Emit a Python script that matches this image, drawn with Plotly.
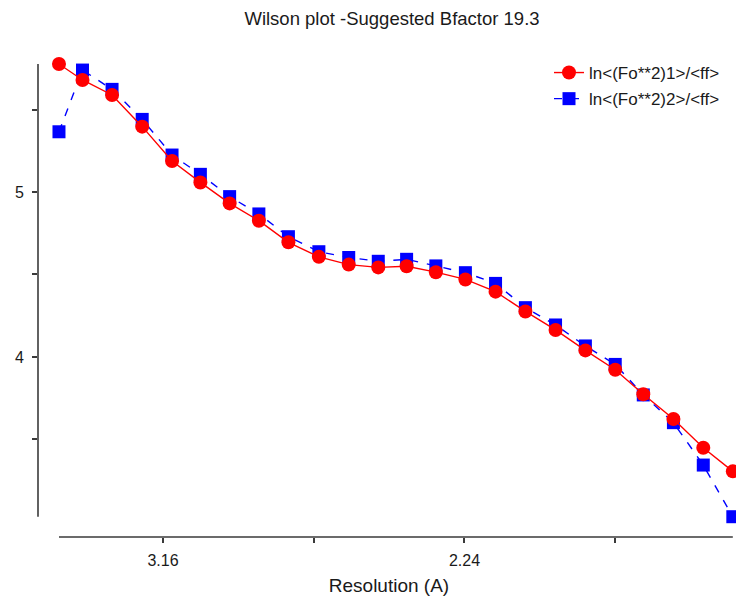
import plotly.graph_objects as go

# 1/d^2 (inverse squared resolution) of each resolution bin
inv_d2 = [0.0655, 0.0733, 0.0831, 0.0931, 0.1030, 0.1124, 0.1221, 0.1318,
          0.1416, 0.1517, 0.1616, 0.1714, 0.1808, 0.1905, 0.2003, 0.2103,
          0.2202, 0.2302, 0.2401, 0.2500, 0.2593, 0.2693, 0.2792, 0.2890]

ln_fo2_1 = [5.776, 5.679, 5.588, 5.396, 5.188, 5.058, 4.931, 4.826,
            4.695, 4.607, 4.560, 4.543, 4.550, 4.514, 4.470, 4.396,
            4.276, 4.164, 4.040, 3.923, 3.774, 3.624, 3.450, 3.307]

ln_fo2_2 = [5.365, 5.739, 5.622, 5.440, 5.224, 5.107, 4.972, 4.867,
            4.729, 4.638, 4.603, 4.580, 4.592, 4.552, 4.511, 4.446,
            4.299, 4.194, 4.067, 3.955, 3.770, 3.602, 3.345, 3.032]

x_tickvals = [0.10, 0.15, 0.20, 0.25]
x_ticktext = ["3.16", "", "2.24", ""]
y_tickvals = [3.5, 4.0, 4.5, 5.0, 5.5]
y_ticktext = ["", "4", "", "5", ""]

title_text = "Wilson plot -Suggested Bfactor 19.3"
series1_name = "ln<(Fo**2)1>/<ff>"
series2_name = "ln<(Fo**2)2>/<ff>"

FONT = "Liberation Sans, Arial, sans-serif"
AXIS_COLOR = "#3a3a3a"
TEXT_COLOR = "#1a1a1a"

# the page body has an 8px margin, so the figure is laid out 8px smaller
OFF = 8
W, H = 744 - OFF, 596 - OFF
PLOT_L, PLOT_R, PLOT_T, PLOT_B = 38 - OFF, 740 - OFF, 60 - OFF, 537 - OFF

fig = go.Figure()
fig.add_trace(go.Scatter(
    x=inv_d2, y=ln_fo2_2, name=series2_name, mode="lines+markers",
    line=dict(color="#0000ff", width=1.4, dash="8px,9px"),
    marker=dict(symbol="square", size=13, color="#0000ff"),
    legendrank=2, legendgroup="b", cliponaxis=False,
))
fig.add_trace(go.Scatter(
    x=inv_d2, y=ln_fo2_1, name=series1_name, mode="lines+markers",
    line=dict(color="#ff0000", width=1.4),
    marker=dict(symbol="circle", size=14, color="#ff0000"),
    legendrank=1, legendgroup="a", cliponaxis=False,
))

all_y = ln_fo2_1 + ln_fo2_2
# axis lines spanning the data range
fig.add_shape(type="line", xref="paper", yref="y", x0=0, x1=0,
              y0=min(all_y), y1=max(all_y),
              line=dict(color=AXIS_COLOR, width=1.6))
fig.add_shape(type="line", xref="x", yref="paper", x0=min(inv_d2), x1=max(inv_d2),
              y0=0, y1=0, line=dict(color=AXIS_COLOR, width=1.6))

pw = PLOT_R - PLOT_L
ph = PLOT_B - PLOT_T

fig.update_layout(
    width=W, height=H,
    margin=dict(l=PLOT_L, r=W - PLOT_R, t=PLOT_T, b=H - PLOT_B, autoexpand=False),
    paper_bgcolor="white", plot_bgcolor="white",
    font=dict(family=FONT, size=16, color=TEXT_COLOR),
    title=dict(text=title_text, x=(392 - OFF) / W, xref="container", xanchor="center",
               y=1 - (19 - OFF) / H, yref="container", yanchor="middle",
               font=dict(family=FONT, size=18.5, color=TEXT_COLOR)),
    showlegend=True,
    legend=dict(x=(549 - 38) / pw, xanchor="left", y=(537 - 55) / ph, yanchor="top",
                bgcolor="rgba(0,0,0,0)", font=dict(family=FONT, size=17, color=TEXT_COLOR),
                itemwidth=30, tracegroupgap=1),
    xaxis=dict(range=[0.05854, 0.29138], showgrid=False, zeroline=False, showline=False,
               automargin=False,
               tickmode="array", tickvals=x_tickvals, ticktext=x_ticktext,
               ticks="outside", ticklen=5, tickwidth=1.5, tickcolor=AXIS_COLOR,
               ticklabelstandoff=4,
               tickfont=dict(family=FONT, size=16, color=TEXT_COLOR),
               title=dict(text="Resolution (A)", font=dict(family=FONT, size=19, color=TEXT_COLOR),
                          standoff=13)),
    yaxis=dict(range=[2.909, 5.8], showgrid=False, zeroline=False, showline=False,
               automargin=False,
               tickmode="array", tickvals=y_tickvals, ticktext=y_ticktext,
               ticks="outside", ticklen=5, tickwidth=1.5, tickcolor=AXIS_COLOR,
               ticklabelstandoff=5,
               tickfont=dict(family=FONT, size=16, color=TEXT_COLOR)),
)

fig.write_html("out.html")
